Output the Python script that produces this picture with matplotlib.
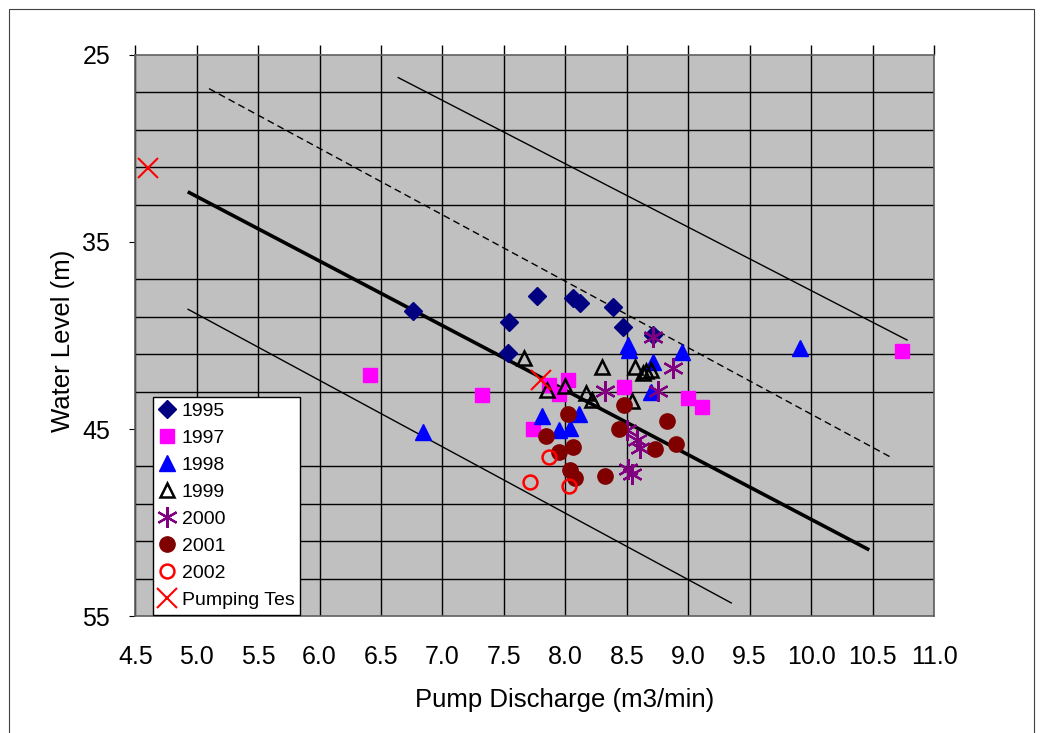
import numpy as np
import matplotlib
matplotlib.use("Agg")
import matplotlib.pyplot as plt
from matplotlib.patches import Rectangle

plt.rcParams['font.family'] = ['Liberation Sans', 'DejaVu Sans']

# データ (x: 揚水量 m3/min, y: 水位 m)
x1995 = [6.76, 7.77, 7.54, 7.53, 8.06, 8.12, 8.39, 8.47, 8.71]
y1995 = [38.69, 37.87, 39.26, 40.92, 38.01, 38.25, 38.49, 39.53, 39.97]

x1997 = [6.41, 7.32, 8.02, 7.87, 7.95, 7.74, 8.48, 9.00, 9.11, 10.74]
y1997 = [42.11, 43.18, 42.38, 42.65, 43.14, 45.00, 42.74, 43.36, 43.81, 40.83]

x1998 = [6.84, 8.51, 8.52, 8.95, 8.71, 8.70, 7.81, 8.11, 7.95, 8.04, 9.91]
y1998 = [45.16, 40.50, 40.75, 40.87, 41.40, 43.00, 44.29, 44.20, 45.05, 44.93, 40.67]

x1999 = [7.66, 8.30, 8.57, 8.63, 8.66, 8.70, 8.00, 7.85, 8.17, 8.22, 8.54]
y1999 = [41.22, 41.67, 41.67, 42.02, 41.88, 41.85, 42.68, 42.91, 43.05, 43.45, 43.50]

x2000 = [8.71, 8.88, 8.75, 8.32, 8.50, 8.58, 8.61, 8.51, 8.54]
y2000 = [40.10, 41.75, 42.98, 42.95, 45.05, 45.59, 46.03, 47.15, 47.40]

x2001 = [8.02, 7.84, 7.95, 8.06, 8.04, 8.08, 8.32, 8.48, 8.44, 8.83, 8.73, 8.90]
y2001 = [44.21, 45.37, 46.21, 45.95, 47.19, 47.64, 47.51, 43.72, 45.00, 44.57, 46.09, 45.80]

x2002 = [7.87, 7.71, 8.03]
y2002 = [46.51, 47.83, 48.05]

x_test = [4.60, 7.80]
y_test = [31.04, 42.38]

# 近似線
fit_x = [4.94, 10.46]
fit_y = [32.36, 51.42]
dash_x = [5.10, 10.66]
dash_y = [26.80, 46.55]
upper_x = [6.64, 10.78]
upper_y = [26.21, 40.24]
lower_x = [4.93, 9.35]
lower_y = [38.60, 54.30]

fig = plt.figure(figsize=(10.43, 7.33), dpi=100)
fig.patches.append(Rectangle((0.009, -0.01), 0.982, 0.998, transform=fig.transFigure,
                             fill=False, edgecolor='#404040', linewidth=0.8))
ax = fig.add_axes([0.1297, 0.1596, 0.7658, 0.7654])
ax.set_facecolor('#C0C0C0')

ax.plot(fit_x, fit_y, color='black', lw=2.6, zorder=2)
ax.plot(dash_x, dash_y, color='black', lw=1.0, ls=(0, (5, 3)), zorder=2)
ax.plot(upper_x, upper_y, color='black', lw=1.0, zorder=2)
ax.plot(lower_x, lower_y, color='black', lw=1.0, zorder=2)

ax.plot(x1995, y1995, 'D', color='#000080', ms=9, ls='none', label='1995', zorder=3)
ax.plot(x1997, y1997, 's', color='#FF00FF', ms=10.5, ls='none', label='1997', zorder=3)
ax.plot(x1998, y1998, '^', color='#0000FF', ms=11, ls='none', label='1998', zorder=3)
ax.plot(x1999, y1999, '^', mfc='none', mec='black', mew=1.8, ms=10.5, ls='none', label='1999', zorder=3)
ax.plot(x2000, y2000, marker=(6, 2, 0), color='#800080', mew=1.6, ms=15, ls='none', label='2000', zorder=3)
ax.plot(x2001, y2001, 'o', color='#800000', ms=11, ls='none', label='2001', zorder=3)
ax.plot(x2002, y2002, 'o', mfc='none', mec='#FF0000', mew=1.8, ms=10, ls='none', label='2002', zorder=3)
ax.plot(x_test, y_test, 'x', color='#FF0000', mew=1.5, ms=14, ls='none', label='Pumping Tes', zorder=3)

ax.set_xlim(4.5, 11.0)
ax.set_ylim(55, 25)
ax.set_xticks(np.arange(4.5, 11.01, 0.5))
ax.set_xticklabels(['%.1f' % v for v in np.arange(4.5, 11.01, 0.5)])
ax.set_yticks([25, 35, 45, 55])
ax.set_yticks(np.arange(25, 56, 2), minor=True)
ax.grid(True, which='major', axis='x', color='black', lw=1.0, zorder=1)
ax.grid(True, which='minor', axis='y', color='black', lw=1.0, zorder=1)
ax.set_axisbelow(True)

ax.tick_params(axis='x', top=True, bottom=False, labeltop=False, labelbottom=True,
               direction='out', length=7, width=1, labelsize=18, pad=14)
ax.tick_params(axis='y', which='major', direction='out', length=4, labelsize=18, pad=14)
ax.tick_params(axis='y', which='minor', length=0)
for s in ax.spines.values():
    s.set_color('#606060')
    s.set_linewidth(1.2)

ax.set_xlabel('Pump Discharge (m3/min)', fontsize=18.5)
ax.xaxis.set_label_coords(0.538, -0.128)
ax.set_ylabel('Water Level (m)', fontsize=18.5)
ax.yaxis.set_label_coords(-0.075, 0.49)

leg = ax.legend(loc='upper left', bbox_to_anchor=(0.0218, 0.391), fontsize=14,
                frameon=True, fancybox=False, shadow=False, framealpha=1,
                edgecolor='black', handlelength=0.9, handletextpad=0.3,
                labelspacing=0.48, borderpad=0.3, borderaxespad=0)
leg.get_frame().set_linewidth(1.0)

fig.savefig('out.png', dpi=100)
